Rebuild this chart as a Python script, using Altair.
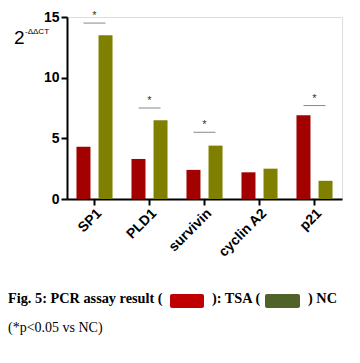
import altair as alt
import pandas as pd

genes = ["SP1", "PLD1", "survivin", "cyclin A2", "p21"]
tsa_values = [4.3, 3.3, 2.4, 2.2, 6.9]
nc_values = [13.5, 6.5, 4.4, 2.5, 1.5]
groups = ["TSA", "NC"]
colors = ["#A30000", "#808000"]

sig_genes = ["SP1", "PLD1", "survivin", "p21"]
sig_levels = [14.5, 7.5, 5.5, 7.7]

y_ticks = [0, 5, 10, 15]

rows = []
for g, t, n in zip(genes, tsa_values, nc_values):
    rows.append({"gene": g, "group": "TSA", "value": t})
    rows.append({"gene": g, "group": "NC", "value": n})
df = pd.DataFrame(rows)
sig_df = pd.DataFrame({"gene": sig_genes, "level": sig_levels})

x_scale = alt.Scale(domain=genes, paddingInner=0.2, paddingOuter=0.1)
y_scale = alt.Scale(domain=[0, 15], nice=False)

SANS = "Liberation Sans"
SERIF = "Liberation Serif"

bars = alt.Chart(df).mark_bar(width=14).encode(
    x=alt.X("gene:N", scale=x_scale, sort=genes, title=None,
            axis=alt.Axis(labelAngle=-45, labelFontWeight="bold", labelFontSize=14,
                          labelFont=SANS, labelColor="black", domainColor="black",
                          domainWidth=2, tickColor="black", tickWidth=2, tickSize=6,
                          labelPadding=1)),
    xOffset=alt.XOffset("group:N", sort=groups,
                        scale=alt.Scale(domain=groups, paddingInner=0.364, paddingOuter=0.18)),
    y=alt.Y("value:Q", scale=y_scale, title=None,
            axis=alt.Axis(values=y_ticks, grid=False, labelFontWeight="bold", labelFontSize=14,
                          labelFont=SANS, labelColor="black", domainColor="black",
                          domainWidth=2, tickColor="black", tickWidth=2, tickSize=6,
                          labelPadding=2)),
    color=alt.Color("group:N", scale=alt.Scale(domain=groups, range=colors), legend=None),
)

sig_lines = alt.Chart(sig_df).mark_tick(size=22, thickness=1, color="#555555").encode(
    x=alt.X("gene:N", scale=x_scale, sort=genes),
    y=alt.Y("level:Q", scale=y_scale),
)

stars = alt.Chart(sig_df).mark_text(text="*", fontSize=11, color="#333333", dy=-2,
                                    font=SANS, baseline="bottom").encode(
    x=alt.X("gene:N", scale=x_scale, sort=genes),
    y=alt.Y("level:Q", scale=y_scale),
)

one = pd.DataFrame({"k": [0]})

title_two = alt.Chart(one).mark_text(text="2", fontSize=19, font=SANS, align="left",
                                     baseline="alphabetic", color="black").encode(
    x=alt.value(-53), y=alt.value(27))
title_sup = alt.Chart(one).mark_text(text="-ΔΔCT", fontSize=8, font=SANS, align="left",
                                     baseline="alphabetic", color="black").encode(
    x=alt.value(-42), y=alt.value(17))

cap1 = alt.Chart(one).mark_text(text="Fig. 5: PCR assay result (", fontSize=14.3, font=SERIF,
                                fontWeight="bold", align="left", baseline="alphabetic",
                                color="black").encode(x=alt.value(-59), y=alt.value(286))
sw1 = alt.Chart(one).mark_rect(color="#C00000", cornerRadius=2).encode(
    x=alt.value(103), x2=alt.value(137), y=alt.value(277), y2=alt.value(291))
cap2 = alt.Chart(one).mark_text(text="): TSA (", fontSize=14.3, font=SERIF,
                                fontWeight="bold", align="left", baseline="alphabetic",
                                color="black").encode(x=alt.value(145), y=alt.value(286))
sw2 = alt.Chart(one).mark_rect(color="#4F6228", cornerRadius=2).encode(
    x=alt.value(198), x2=alt.value(233), y=alt.value(277), y2=alt.value(291))
cap3 = alt.Chart(one).mark_text(text=") NC", fontSize=14.3, font=SERIF,
                                fontWeight="bold", align="left", baseline="alphabetic",
                                color="black").encode(x=alt.value(241), y=alt.value(286))
cap4 = alt.Chart(one).mark_text(text="(*p<0.05 vs NC)", fontSize=14, font=SERIF,
                                align="left", baseline="alphabetic",
                                color="black").encode(x=alt.value(-59), y=alt.value(315))

chart = alt.layer(bars, sig_lines, stars, title_two, title_sup,
                  cap1, sw1, cap2, sw2, cap3, cap4).properties(
    width=275, height=182,
    autosize=alt.AutoSizeParams(type="none"),
    padding={"left": 59, "top": 9, "right": 10, "bottom": 156},
).configure_view(stroke=None).configure(background="white")

chart.save("out.html", embed_options={"renderer": "svg", "actions": False})
